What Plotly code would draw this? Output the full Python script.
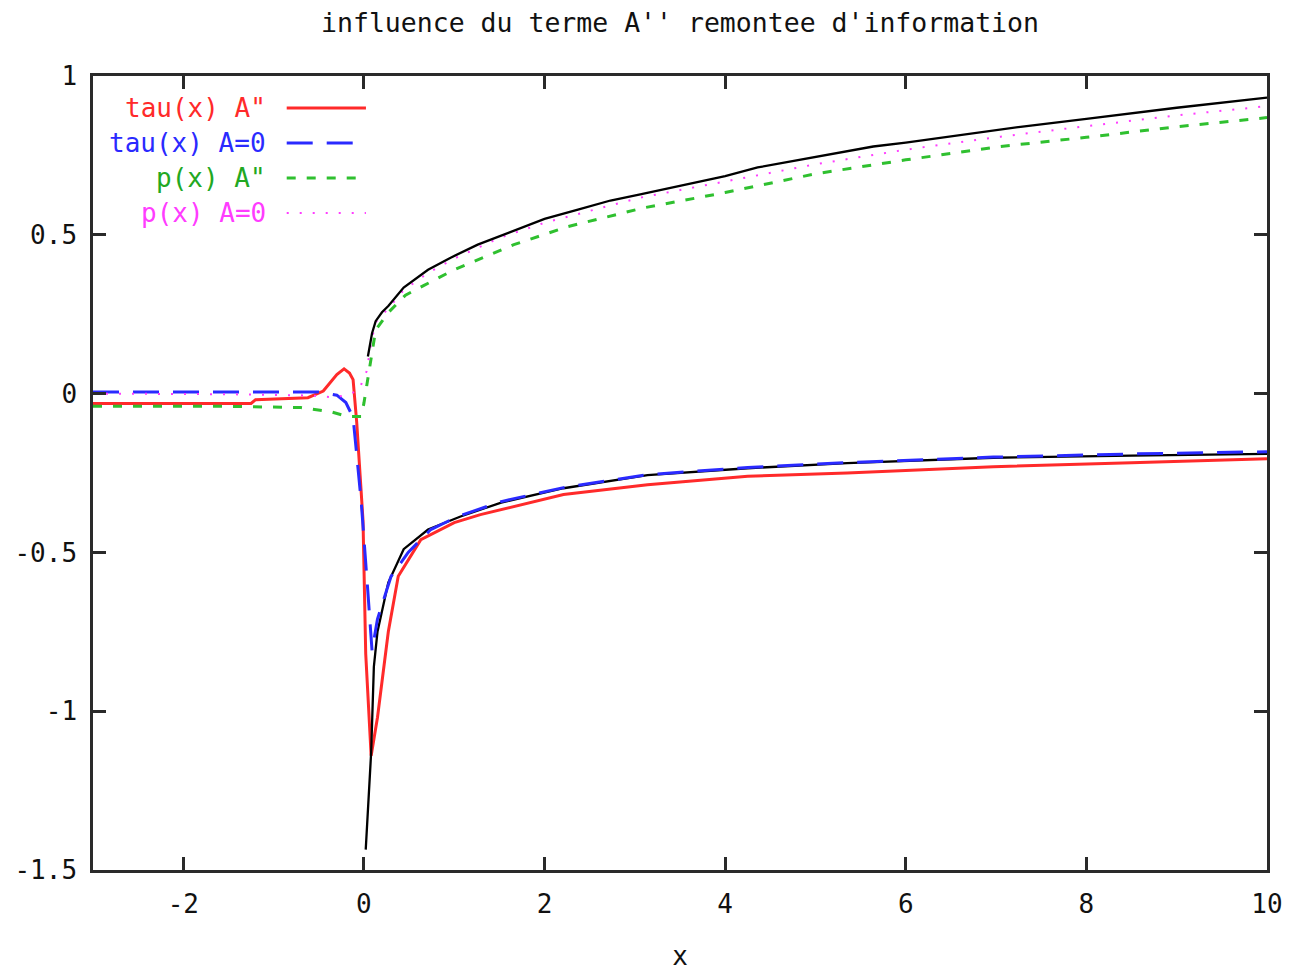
import plotly.graph_objects as go

# tau(x) with the A'' term
tau_a_x = [-3.0, -1.25, -1.2, -0.62, -0.45, -0.37, -0.3, -0.22, -0.16, -0.12, -0.08, -0.01,
           0.02, 0.08, 0.15, 0.27, 0.38, 0.63, 1.0, 1.29, 2.21, 3.14, 4.25, 5.35, 6.97, 8.5, 10.0]
tau_a_y = [-0.031, -0.031, -0.019, -0.013, 0.008, 0.035, 0.06, 0.078, 0.065, 0.044, -0.09, -0.40,
           -0.82, -1.14, -1.02, -0.75, -0.575, -0.46, -0.406, -0.381, -0.318, -0.287, -0.26,
           -0.25, -0.23, -0.218, -0.205]

# tau(x) with A = 0
tau_0_x = [-3.0, -0.5, -0.3, -0.2, -0.12, -0.03, 0.04, 0.09, 0.15, 0.3, 0.49, 0.74, 1.04,
           1.52, 2.21, 3.14, 4.25, 5.35, 6.97, 8.5, 10.0]
tau_0_y = [0.005, 0.005, -0.005, -0.028, -0.075, -0.34, -0.61, -0.81, -0.71, -0.576, -0.50,
           -0.428, -0.387, -0.34, -0.296, -0.255, -0.233, -0.217, -0.2, -0.19, -0.183]

# p(x) with the A'' term
p_a_x = [-3.0, -1.5, -0.7, -0.37, -0.18, -0.03, 0.0, 0.04, 0.07, 0.13, 0.27, 0.46, 0.66, 1.0,
         1.66, 2.26, 3.1, 4.0, 5.0, 6.0, 7.05, 8.0, 9.0, 10.0]
p_a_y = [-0.04, -0.04, -0.044, -0.057, -0.072, -0.072, -0.03, 0.044, 0.1, 0.2, 0.255, 0.31,
         0.34, 0.39, 0.469, 0.526, 0.585, 0.633, 0.692, 0.736, 0.778, 0.807, 0.84, 0.869]

# p(x) with A = 0
p_0_x = [-3.0, -1.5, -0.6, -0.33, -0.18, -0.05, 0.0, 0.03, 0.08, 0.13, 0.27, 0.44, 0.71, 1.0,
         1.5, 2.0, 3.06, 4.0, 5.0, 6.0, 7.05, 8.0, 9.0, 10.0]
p_0_y = [0.0, -0.002, -0.006, -0.012, -0.004, 0.012, 0.054, 0.07, 0.16, 0.225, 0.268, 0.326,
         0.38, 0.425, 0.49, 0.538, 0.617, 0.668, 0.722, 0.768, 0.809, 0.842, 0.876, 0.905]

# reference curves (black)
tau_ref_x = [0.02, 0.08, 0.11, 0.15, 0.27, 0.44, 0.71, 1.07, 1.52, 2.21, 3.14, 4.25, 5.35,
             6.97, 8.5, 10.0]
tau_ref_y = [-1.436, -1.13, -0.86, -0.75, -0.595, -0.49, -0.428, -0.387, -0.343, -0.298,
             -0.257, -0.235, -0.219, -0.202, -0.195, -0.19]
p_ref_x = [0.044, 0.09, 0.13, 0.2, 0.27, 0.44, 0.71, 0.96, 1.26, 1.63, 2.0, 2.37, 2.73, 3.06,
           3.5, 4.0, 4.36, 5.0, 5.64, 6.0, 6.5, 7.05, 7.27, 8.0, 9.0, 10.0]
p_ref_y = [0.117, 0.19, 0.228, 0.256, 0.276, 0.334, 0.39, 0.428, 0.469, 0.51, 0.55, 0.579,
           0.608, 0.627, 0.655, 0.685, 0.712, 0.745, 0.778, 0.79, 0.81, 0.831, 0.84, 0.865,
           0.9, 0.932]

x_ticks = [-2, 0, 2, 4, 6, 8, 10]
x_tick_text = ["-2", "0", "2", "4", "6", "8", "10"]
y_ticks = [-1.5, -1, -0.5, 0, 0.5, 1]
y_tick_text = ["-1.5", "-1", "-0.5", "0", "0.5", "1"]

title_text = "influence du terme A'' remontee d'information"
legend_labels = ['tau(x) A"', "tau(x) A=0", 'p(x) A"', "p(x) A=0"]

RED = "#ff2a2a"
BLUE = "#2a2aff"
GREEN = "#2fc02f"
MAGENTA = "#ff3cff"
FONT = "DejaVu Sans Mono"
FSIZE = 26

styles = [
    dict(color=RED, width=3, dash="solid"),
    dict(color=BLUE, width=3, dash="26px,14px"),
    dict(color=GREEN, width=3, dash="9px,11px"),
    dict(color=MAGENTA, width=2, dash="2px,11px"),
]
text_colors = [RED, BLUE, "#22a822", MAGENTA]

fig = go.Figure()

fig.add_trace(go.Scatter(x=tau_a_x, y=tau_a_y, mode="lines", line=styles[0], showlegend=False))
fig.add_trace(go.Scatter(x=tau_ref_x, y=tau_ref_y, mode="lines",
                         line=dict(color="black", width=2.3), showlegend=False))
fig.add_trace(go.Scatter(x=tau_0_x, y=tau_0_y, mode="lines", line=styles[1], showlegend=False))
fig.add_trace(go.Scatter(x=p_a_x, y=p_a_y, mode="lines", line=styles[2], showlegend=False))
fig.add_trace(go.Scatter(x=p_0_x, y=p_0_y, mode="lines", line=styles[3], showlegend=False))
fig.add_trace(go.Scatter(x=p_ref_x, y=p_ref_y, mode="lines",
                         line=dict(color="black", width=2.3), showlegend=False))

# gnuplot-style key: right-aligned text followed by the line sample
row_y = [0.9597, 0.9156, 0.8715, 0.8275]
for label, tc, st, ry in zip(legend_labels, text_colors, styles, row_y):
    fig.add_annotation(x=0.149, y=ry, xref="paper", yref="paper", text=label,
                       showarrow=False, xanchor="right", yanchor="middle",
                       font=dict(family=FONT, size=FSIZE, color=tc))
    fig.add_shape(type="line", xref="paper", yref="paper", x0=0.165, x1=0.2325,
                  y0=ry, y1=ry, line=st)

axis_common = dict(
    showgrid=False, zeroline=False, showline=True, linecolor="#2a2a2a", linewidth=2.5,
    mirror="allticks", ticks="inside", ticklen=13, tickwidth=2.5, tickcolor="#2a2a2a",
    tickfont=dict(family=FONT, size=FSIZE, color="#111111"), automargin=False,
)

fig.update_layout(
    width=1289, height=971,
    margin=dict(l=93, r=22, t=76, b=101),
    paper_bgcolor="white", plot_bgcolor="white",
    title=dict(text=title_text, x=0.5, xref="paper", xanchor="center",
               y=1 - 23 / 971, yanchor="middle", yref="container",
               font=dict(family=FONT, size=26.5, color="#111111")),
    xaxis=dict(range=[-3, 10], tickvals=x_ticks, ticktext=x_tick_text,
               ticklabelstandoff=9,
               title=dict(text="x", font=dict(family=FONT, size=FSIZE, color="#111111"),
                          standoff=30),
               **axis_common),
    yaxis=dict(range=[-1.5, 1], tickvals=y_ticks, ticktext=y_tick_text,
               ticklabelstandoff=8, **axis_common),
)

fig.write_html("out.html")
